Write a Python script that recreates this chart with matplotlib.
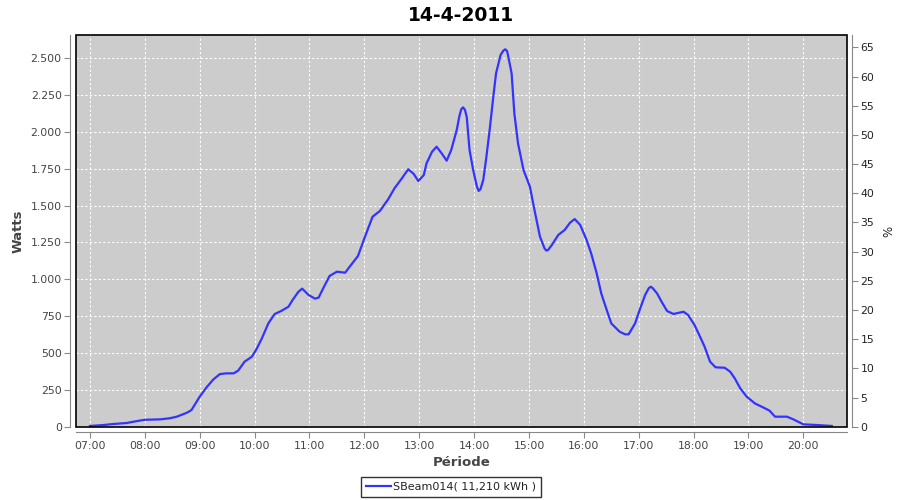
import matplotlib
matplotlib.use("Agg")
import matplotlib.pyplot as plt
from matplotlib.ticker import MultipleLocator, FuncFormatter
from matplotlib.patches import Rectangle

title = "14-4-2011"
series_name = "SBeam014( 11,210 kWh )"

times = ["07:00", "07:14", "07:25", "07:40", "07:53", "08:00", "08:17", "08:27", "08:35", "08:46",
         "08:51", "09:00", "09:08", "09:15", "09:22", "09:29", "09:37", "09:42", "09:49", "09:57",
         "10:02", "10:08", "10:15", "10:22", "10:29", "10:37", "10:42", "10:48", "10:52", "10:59",
         "11:06", "11:10", "11:15", "11:22", "11:30", "11:39", "11:44", "11:53", "12:00", "12:09",
         "12:17", "12:26", "12:33", "12:41", "12:48", "12:54", "12:59", "13:05", "13:08", "13:14",
         "13:19", "13:25", "13:30", "13:35", "13:41", "13:44", "13:46", "13:48", "13:50", "13:52",
         "13:55", "13:59", "14:03", "14:05", "14:07", "14:10", "14:13", "14:17", "14:21", "14:24",
         "14:29", "14:32", "14:34", "14:36", "14:37", "14:41", "14:44", "14:48", "14:54", "15:01",
         "15:06", "15:12", "15:17", "15:19", "15:21", "15:25", "15:32", "15:39", "15:45", "15:50",
         "15:56", "16:03", "16:08", "16:14", "16:19", "16:25", "16:30", "16:39", "16:45", "16:49",
         "16:56", "17:01", "17:07", "17:11", "17:13", "17:15", "17:20", "17:25", "17:31", "17:38",
         "17:49", "17:54", "18:01", "18:07", "18:12", "18:18", "18:24", "18:34", "18:40", "18:45",
         "18:51", "18:58", "19:07", "19:16", "19:23", "19:29", "19:42", "19:49", "20:00", "20:16",
         "20:31"]
watts = [5, 11, 18, 25, 40, 47, 50, 57, 68, 95,
         113, 204, 271, 321, 357, 362, 362, 380, 441, 475,
         525, 600, 701, 765, 785, 814, 864, 916, 937, 894,
         869, 876, 939, 1023, 1052, 1045, 1086, 1158, 1278, 1425,
         1464, 1543, 1618, 1685, 1747, 1715, 1667, 1708, 1787, 1866,
         1900, 1851, 1805, 1878, 2013, 2110, 2155, 2167, 2150, 2100,
         1878, 1742, 1630, 1600, 1612, 1674, 1810, 2013, 2240, 2398,
         2523, 2552, 2561, 2550, 2523, 2398, 2127, 1923, 1742, 1629,
         1471, 1290, 1210, 1195, 1200, 1233, 1301, 1335, 1385, 1409,
         1369, 1267, 1176, 1041, 905, 792, 701, 645, 627, 627,
         701, 792, 894, 940, 950, 942, 905, 848, 785, 765,
         780, 758, 690, 611, 543, 441, 403, 400, 373, 328,
         260, 204, 158, 131, 109, 68, 68, 50, 16, 11,
         5]

hours = [int(t[:2]) + int(t[3:]) / 60.0 for t in times]

fig = plt.figure(figsize=(9, 5), dpi=100)
fig.patch.set_facecolor("white")
ax = fig.add_axes([0.0841, 0.1466, 0.8567, 0.7828])
ax.set_facecolor("#CCCCCC")

ax.plot(hours, watts, color="#3333FF", lw=1.6, label=series_name, zorder=3)

ax.set_xlim(6.74, 20.79)
ax.set_ylim(0, 2656)
ax.xaxis.set_major_locator(MultipleLocator(1))
ax.xaxis.set_major_formatter(FuncFormatter(lambda v, p: f"{int(round(v)):02d}:00"))
ax.yaxis.set_major_locator(MultipleLocator(250))
ax.yaxis.set_major_formatter(FuncFormatter(lambda v, p: f"{int(v):,}".replace(",", ".")))

ax.grid(True, color="white", linestyle=(0, (2, 2)), lw=0.8, zorder=1)
ax.set_axisbelow(True)

for s in ["top", "right"]:
    ax.spines[s].set_visible(False)
for s in ["left", "bottom"]:
    ax.spines[s].set_position(("outward", 4))
    ax.spines[s].set_color("#888888")
ax.tick_params(direction="out", length=4, color="#888888", labelsize=7.8,
               labelcolor="#444444", pad=2)
ax.add_patch(Rectangle((0, 0), 1, 1, transform=ax.transAxes, fill=False,
                       edgecolor="black", lw=1.2, zorder=5, clip_on=False))

ax2 = ax.twinx()
ax2.set_ylim(0, 67.06)
ax2.yaxis.set_major_locator(MultipleLocator(5))
for s in ["top", "left", "bottom"]:
    ax2.spines[s].set_visible(False)
ax2.spines["right"].set_position(("outward", 4))
ax2.spines["right"].set_color("#888888")
ax2.tick_params(direction="out", length=4, color="#888888", labelsize=7.8,
                labelcolor="#222222", pad=2)
ax2.set_ylabel("%", fontsize=8.5, color="#222222", labelpad=6)

ax.set_title(title, fontsize=13.5, fontweight="bold", pad=10)
ax.set_ylabel("Watts", fontsize=9.5, fontweight="bold", color="#444444", labelpad=4)
ax.set_xlabel("Période", fontsize=9.5, fontweight="bold", color="#444444", labelpad=4)

leg = fig.legend(loc="lower center", bbox_to_anchor=(0.501, 0.002), fontsize=8,
                 frameon=True, fancybox=False, edgecolor="black", handlelength=2.2,
                 handletextpad=0.2, borderpad=0.45, borderaxespad=0.2)
leg.get_frame().set_linewidth(1.0)
for t in leg.get_texts():
    t.set_color("#222222")

fig.savefig("out.png", dpi=100)
